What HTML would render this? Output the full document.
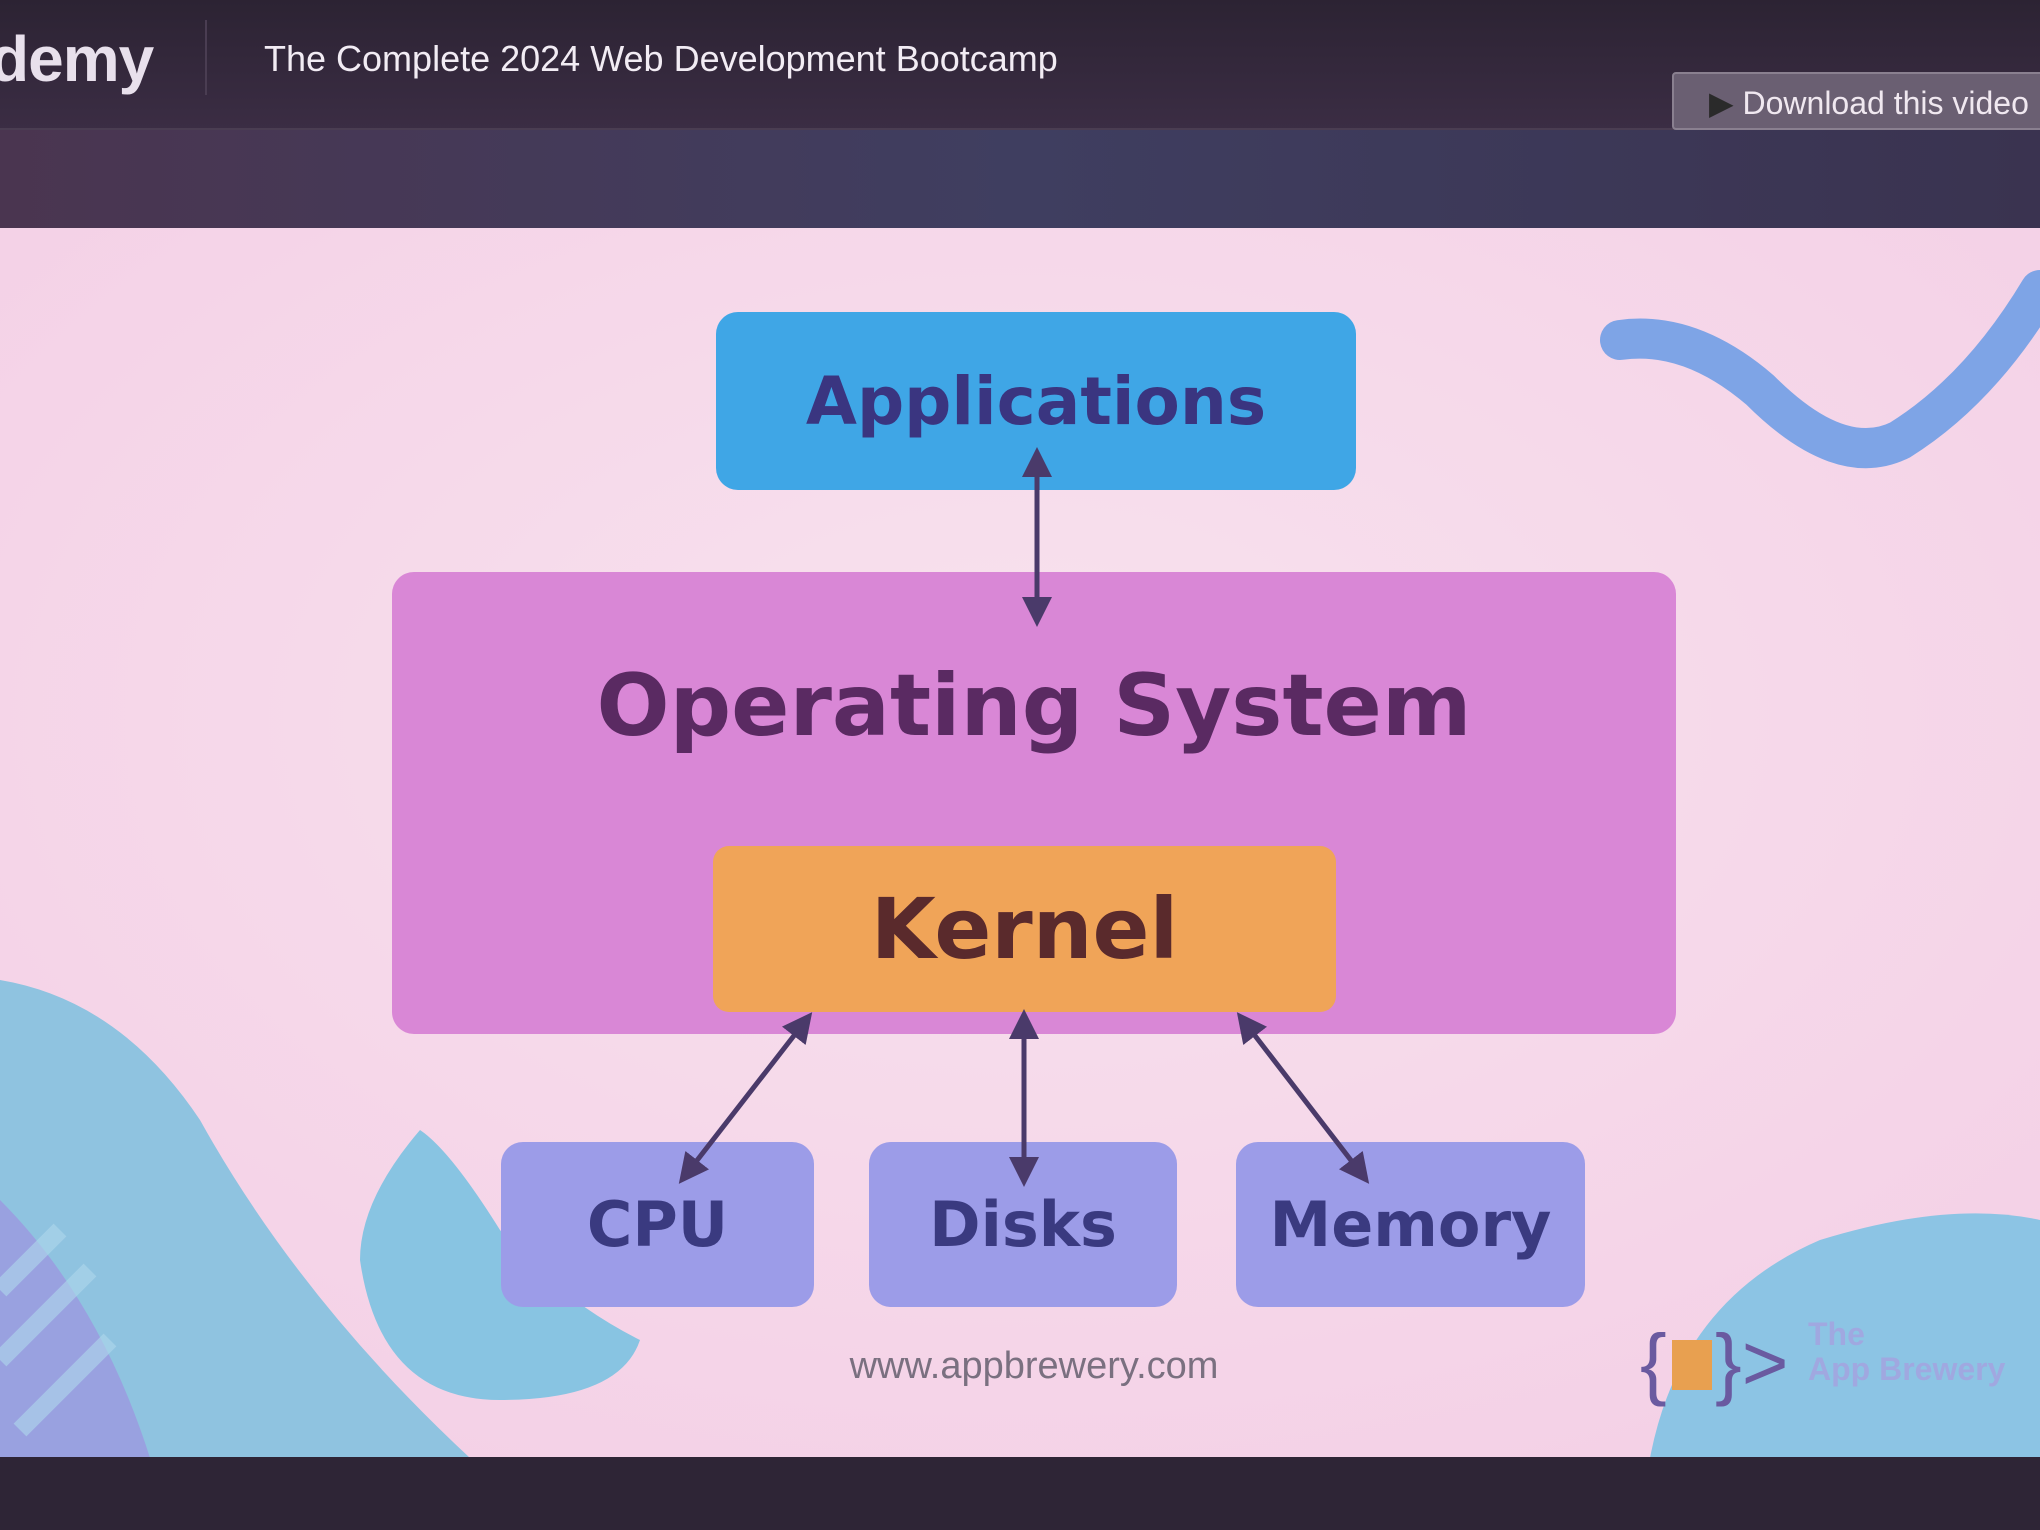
<!DOCTYPE html>
<html><head><meta charset="utf-8"><style>
html,body{margin:0;padding:0}
body{width:2040px;height:1530px;position:relative;overflow:hidden;background:#2e2536;font-family:"Liberation Sans",sans-serif}
.abs{position:absolute}
.box{position:absolute;border-radius:22px;display:flex;align-items:center;justify-content:center;font-weight:bold;font-family:"DejaVu Sans","Liberation Sans",sans-serif}
</style></head><body>
<div class="abs" style="left:0;top:0;width:2040px;height:130px;background:linear-gradient(#2c2333,#3b2d44)"></div>
<div class="abs" style="left:0;top:128px;width:2040px;height:2px;background:#4a3d52"></div>
<div class="abs" style="left:0;top:130px;width:2040px;height:100px;background:linear-gradient(90deg,#4a3550,#3f3e60 50%,#3a3350)"></div>
<div class="abs" style="left:-10px;top:22px;color:#e8e0ec;font-size:64px;font-weight:bold;letter-spacing:-1px">demy</div>
<div class="abs" style="left:205px;top:20px;width:2px;height:75px;background:#4a3d52"></div>
<div class="abs" style="left:264px;top:38px;color:#f2ecf4;font-size:36px">The Complete 2024 Web Development Bootcamp</div>
<div class="abs" style="left:1672px;top:72px;width:380px;height:58px;background:#6a5f72;border:2px solid #8a8090;border-radius:4px;color:#f0e8f0;font-size:32px;line-height:58px;padding-left:35px;box-sizing:border-box"><span style="color:#2a2a2a">▶</span> Download this video</div>
<svg class="abs" style="left:0;top:0" width="2040" height="1530">
<defs><radialGradient id="bg" cx="0.5" cy="0.4" r="0.7"><stop offset="0" stop-color="#f8e2ee"/><stop offset="1" stop-color="#f4d0e6"/></radialGradient></defs>
<rect x="0" y="228" width="2040" height="1230" fill="url(#bg)"/>
<path d="M0 980 Q120 1000 200 1120 Q300 1300 470 1458 L0 1458Z" fill="#8fc3e0"/>
<path d="M0 1200 L0 1458 L150 1458 Q100 1300 0 1200Z" fill="#a08ae0" opacity="0.6"/>
<g stroke="#b0d8ec" stroke-width="18" opacity="0.6"><line x1="0" y1="1290" x2="60" y2="1230"/><line x1="0" y1="1360" x2="90" y2="1270"/><line x1="20" y1="1430" x2="110" y2="1340"/></g>
<path d="M420 1130 Q360 1200 360 1260 Q380 1400 500 1400 Q620 1400 640 1340 Q560 1300 500 1230 Q450 1150 420 1130Z" fill="#88c4e2"/>
<path d="M1650 1458 Q1680 1300 1820 1240 Q1950 1200 2040 1220 L2040 1458Z" fill="#8cc4e4"/>
<path d="M1620 340 Q1690 330 1760 390 Q1840 470 1900 440 Q1980 390 2040 290" stroke="#7ea4e6" stroke-width="40" fill="none" stroke-linecap="round"/>
<rect x="0" y="1457" width="2040" height="73" fill="#2e2536"/>
</svg>
<div class="box" style="left:716px;top:312px;width:640px;height:178px;background:#3fa6e6;color:#3a3580;font-size:66px">Applications</div>
<div class="box" style="left:392px;top:572px;width:1284px;height:462px;background:#d987d6;color:#5a2a62;font-size:86px;align-items:flex-start;padding-top:84px;box-sizing:border-box">Operating System</div>
<div class="box" style="left:713px;top:846px;width:623px;height:166px;background:#f0a458;color:#5a2a2c;font-size:84px;border-radius:16px">Kernel</div>
<div class="box" style="left:501px;top:1142px;width:313px;height:165px;background:#9c9ce8;color:#3a3a80;font-size:62px">CPU</div>
<div class="box" style="left:869px;top:1142px;width:308px;height:165px;background:#9c9ce8;color:#3a3a80;font-size:62px">Disks</div>
<div class="box" style="left:1236px;top:1142px;width:349px;height:165px;background:#9c9ce8;color:#3a3a80;font-size:62px">Memory</div>
<svg class="abs" style="left:0;top:0" width="2040" height="1530">
<defs><marker id="a" markerWidth="6" markerHeight="6" refX="3" refY="3" orient="auto-start-reverse"><path d="M0 0L6 3L0 6Z" fill="#4a3a6a"/></marker></defs>
<g stroke="#4a3a6a" stroke-width="5" marker-start="url(#a)" marker-end="url(#a)">
<line x1="1037" y1="462" x2="1037" y2="612"/>
<line x1="803" y1="1024" x2="688" y2="1172"/>
<line x1="1024" y1="1024" x2="1024" y2="1172"/>
<line x1="1246" y1="1024" x2="1360" y2="1172"/>
</g>
<text x="1034" y="1378" text-anchor="middle" font-family="Liberation Sans,sans-serif" font-size="38" fill="#7a7080">www.appbrewery.com</text>
<text x="1640" y="1390" font-family="Liberation Sans,sans-serif" font-size="80" fill="#6a5aa0">{</text>
<rect x="1672" y="1340" width="40" height="50" fill="#e8a050"/>
<text x="1715" y="1390" font-family="Liberation Sans,sans-serif" font-size="80" fill="#6a5aa0">}&gt;</text>
<text x="1808" y="1345" font-family="Liberation Sans,sans-serif" font-size="32" font-weight="bold" fill="#a0a8e0">The</text>
<text x="1808" y="1380" font-family="Liberation Sans,sans-serif" font-size="32" font-weight="bold" fill="#a0a8e0">App Brewery</text>
</svg>
</body></html>
